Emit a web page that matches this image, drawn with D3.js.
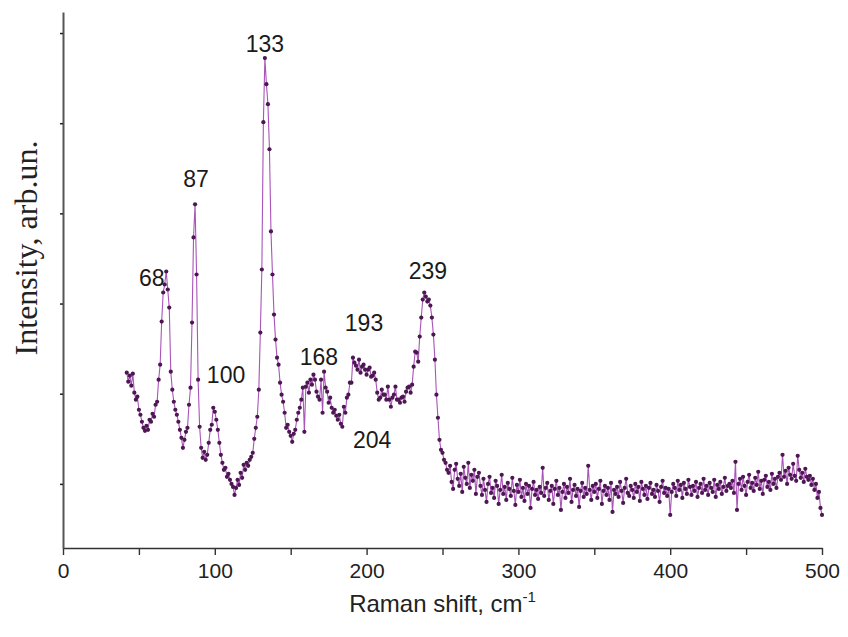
<!DOCTYPE html>
<html>
<head>
<meta charset="utf-8">
<script src="https://cdn.jsdelivr.net/npm/d3@7"></script>
<style>
  body { margin: 0; background: #fff; }
  svg { display: block; }
</style>
</head>
<body>
<div id="graph"></div>
<script>
const shiftStart = 42;
const intensity = [
  // 42-90
  201, 192, 198, 188, 200, 181, 174, 177, 164, 159,
  152, 146, 143, 148, 144, 154, 152, 160, 157, 169,
  172, 194, 209, 252, 281, 289, 302, 284, 266, 202,
  184, 172, 164, 159, 152, 144, 136, 126, 134, 142,
  146, 169, 186, 251, 336, 369, 299, 194, 147,
  // 91-140
  126, 116, 122, 114, 119, 131, 144, 149, 166, 162,
  154, 144, 131, 119, 111, 104, 106, 97, 100, 94,
  90, 87, 79, 86, 94, 89, 101, 96, 109, 104,
  111, 108, 114, 117, 121, 135, 146, 157, 184, 241,
  304, 451, 515, 489, 469, 424, 342, 299, 259, 234,
  // 141-190
  216, 209, 191, 179, 172, 161, 146, 149, 142, 138,
  132, 140, 144, 154, 161, 166, 174, 186, 142, 187,
  191, 181, 194, 189, 199, 194, 182, 177, 174, 194,
  161, 202, 186, 182, 171, 176, 166, 161, 164, 158,
  154, 159, 150, 147, 167, 161, 176, 179, 191, 191,
  // 191-254
  216, 211, 208, 204, 214, 201, 207, 209, 204, 199,
  204, 206, 197, 198, 201, 194, 181, 174, 176, 184,
  179, 179, 174, 187, 174, 167, 176, 179, 187, 174,
  174, 171, 176, 177, 172, 182, 186, 187, 181, 189,
  207, 222, 221, 212, 237, 256, 274, 281, 277, 272,
  274, 268, 256, 239, 214, 179, 156, 134, 124, 121,
  114, 111, 104, 101,
  // 255-299
  108, 92, 85, 104, 110, 95, 88, 100, 82, 107,
  96, 90, 111, 86, 99, 93, 104, 80, 97, 101,
  88, 79, 95, 84, 72, 90, 97, 81, 86, 76,
  93, 88, 70, 84, 99, 80, 87, 74, 91, 85,
  78, 96, 83, 69, 89,
  // 300-349
  82, 94, 77, 86, 73, 90, 80, 88, 66, 85,
  92, 79, 84, 75, 87, 81, 106, 78, 86, 91,
  74, 83, 88, 70, 85, 93, 79, 86, 64, 82,
  90, 76, 87, 81, 95, 72, 84, 89, 78, 85,
  67, 83, 91, 77, 86, 80, 108, 84, 74, 88,
  // 350-399
  82, 90, 76, 85, 93, 70, 83, 88, 79, 86,
  74, 91, 62, 84, 80, 87, 77, 92, 83, 71,
  86, 95, 81, 78, 88, 84, 76, 90, 82, 87,
  73, 92, 85, 79, 88, 75, 86, 91, 80, 84,
  77, 89, 83, 72, 87, 93, 81, 86, 78, 85,
  // 400-439
  59, 82, 90, 86, 78, 93, 84, 89, 76, 91,
  85, 80, 94, 87, 79, 88, 83, 92, 77, 86,
  90, 81, 95, 84, 88, 79, 91, 86, 82, 94,
  77, 89, 85, 92, 80, 87, 96, 83, 88, 90,
  // 440-471
  86, 93, 81, 112, 64, 90, 95, 84, 97, 88,
  79, 92, 99, 86, 91, 83, 96, 89, 102, 85,
  93, 80, 94, 98, 87, 92, 84, 100, 90, 95,
  86, 97,
  // 472-500
  101, 94, 119, 97, 103, 90, 106, 99, 95, 110,
  98, 93, 118, 104, 96, 101, 92, 105, 97, 94,
  98, 89, 95, 84, 90, 76, 82, 66, 59
];
const shifts = intensity.map((d, i) => shiftStart + i);

// peak annotations: label text and where it sits (cm-1, intensity)
const peakLabels = ['68', '87', '100', '133', '168', '193', '204', '239'];
const peakLabelShift = [58.5, 87.6, 107.4, 133, 168.6, 198.3, 203.6, 240.4];
const peakLabelLevel = [295, 394, 199, 529, 217, 251, 134, 302];

const xTicks = [0, 100, 200, 300, 400, 500];
const xMinorTicks = [0, 50, 100, 150, 200, 250, 300, 350, 400, 450, 500];
const yTicks = [90, 180, 270, 360, 450, 540];

const w = 848;
const h = 637;
const plotLeft = 63, plotRight = 822, plotTop = 12, plotBottom = 548;

const svg = d3.select('#graph').append('svg')
  .attr('width', w).attr('height', h);

const xScale = d3.scaleLinear().domain([0, 500]).range([plotLeft, plotRight]);
const yScale = d3.scaleLinear().domain([26, 561]).range([plotBottom, plotTop]);

const line = d3.line()
  .x((d, i) => xScale(shifts[i]))
  .y((d) => yScale(d));

svg.append('path')
  .datum(intensity)
  .attr('d', line)
  .attr('fill', 'none')
  .attr('stroke', '#a954b8')
  .attr('stroke-width', 1.1);

svg.append('g').selectAll('circle').data(intensity).enter().append('circle')
  .attr('cx', (d, i) => xScale(shifts[i]))
  .attr('cy', (d) => yScale(d))
  .attr('r', 2.1)
  .attr('fill', '#4d1752');

// x axis: minor ticks every 50, labels every 100
const xAxis = d3.axisBottom(xScale)
  .tickValues(xMinorTicks)
  .tickSize(7)
  .tickSizeOuter(0)
  .tickFormat((d) => xTicks.includes(d) ? d : '');
const gx = svg.append('g')
  .attr('transform', 'translate(0,' + plotBottom + ')')
  .call(xAxis);
gx.select('.domain').attr('stroke', '#333').attr('stroke-width', 1.6);
gx.selectAll('.tick line').attr('stroke', '#333').attr('stroke-width', 1.4);
gx.selectAll('.tick text')
  .attr('font-family', '"Liberation Sans", Arial, sans-serif')
  .attr('font-size', 21)
  .attr('fill', '#222')
  .attr('dy', '0.95em');

const yAxis = d3.axisLeft(yScale)
  .tickValues(yTicks)
  .tickSize(3)
  .tickSizeOuter(0)
  .tickFormat('');
const gy = svg.append('g')
  .attr('transform', 'translate(' + plotLeft + ',0)')
  .call(yAxis);
gy.select('.domain').attr('stroke', '#555').attr('stroke-width', 2);
gy.selectAll('.tick line').attr('stroke', '#222').attr('stroke-width', 1.5);

// peak labels
svg.append('g').selectAll('text').data(peakLabels).enter().append('text')
  .attr('x', (d, i) => xScale(peakLabelShift[i]))
  .attr('y', (d, i) => yScale(peakLabelLevel[i]))
  .attr('text-anchor', 'middle')
  .attr('dominant-baseline', 'central')
  .attr('font-family', '"Liberation Sans", Arial, sans-serif')
  .attr('font-size', 23)
  .attr('fill', '#1a1a1a')
  .text((d) => d);

// axis titles
const xTitle = svg.append('text')
  .attr('x', (plotLeft + plotRight) / 2)
  .attr('y', 612)
  .attr('text-anchor', 'middle')
  .attr('font-family', '"Liberation Sans", Arial, sans-serif')
  .attr('font-size', 24)
  .attr('fill', '#222');
xTitle.append('tspan').text('Raman shift, cm');
xTitle.append('tspan').attr('dy', -10).attr('font-size', 15).text('-1');

svg.append('text')
  .attr('transform', 'translate(37,248) rotate(-90)')
  .attr('text-anchor', 'middle')
  .attr('font-family', '"Liberation Serif", "Times New Roman", serif')
  .attr('font-size', 32)
  .attr('fill', '#222')
  .text('Intensity, arb.un.');
</script>
</body>
</html>
